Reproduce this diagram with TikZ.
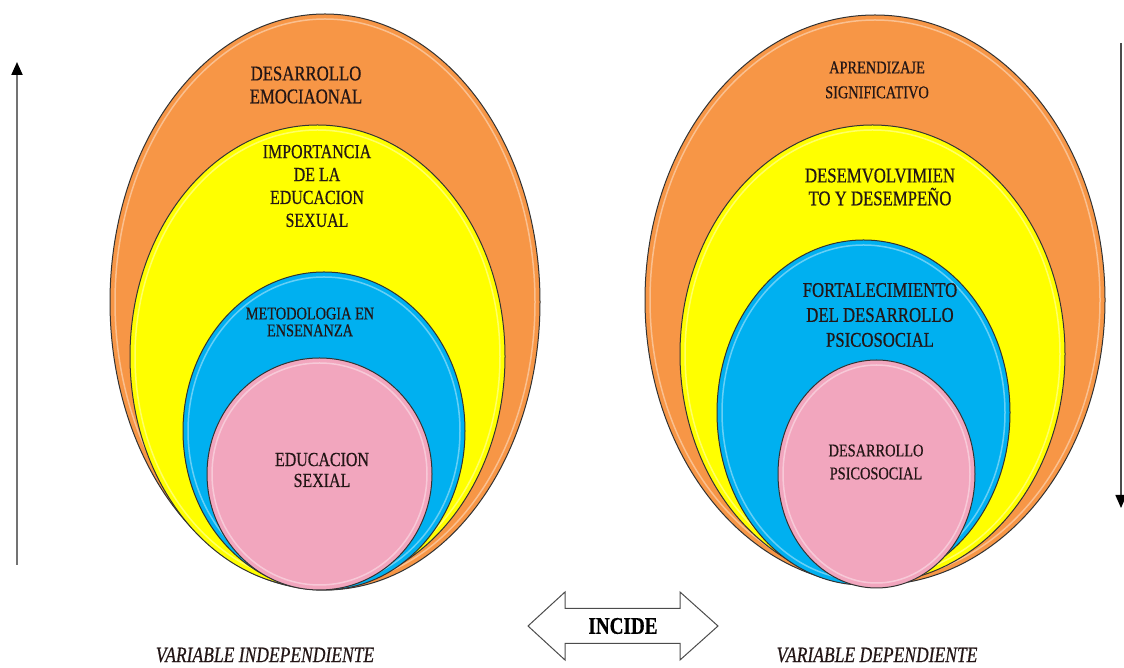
\documentclass[tikz,border=0pt]{standalone}
\usepackage{fontspec}
\setmainfont{Liberation Serif}[FakeStretch=0.8, FakeBold=0.6]
\usetikzlibrary{shapes.geometric,arrows.meta}
\definecolor{orangeA}{RGB}{247,150,70}
\definecolor{yellowA}{RGB}{255,255,0}
\definecolor{blueA}{RGB}{0,176,240}
\definecolor{pinkA}{RGB}{242,166,190}
\definecolor{ink}{RGB}{35,22,22}
\tikzset{
	ring/.style={ellipse, draw=black!80, line width=1bp, inner sep=0pt},
	lbl/.style={align=center, text=ink, inner sep=0pt},
}
\begin{document}
\begin{tikzpicture}[x=1bp,y=1bp]
	\useasboundingbox (0,0) rectangle (1124,668);
	\foreach \nm/\cx/\cy/\rx/\ry/\col in {lo/325/366/215/288/orangeA, ly/317.5/311.5/187.5/231.5/yellowA, lb/324/237/141/159/blueA, lp/319.5/194/112.5/116/pinkA, ro/875/368/230/285/orangeA, ry/872.5/314/192.5/229/yellowA, rb/863.5/255.5/146.5/172.5/blueA, rp/876.5/194/98.5/114/pinkA}{
		\path (\cx,\cy) node [ring, fill=\col, minimum width={2*\rx*1bp}, minimum height={2*\ry*1bp}] (\nm) {};
		\draw [white, opacity=.4, line width=1.5bp] (\cx,\cy) ellipse [x radius=\rx-5, y radius=\ry-5];
	}
	\path (306,583) node [lbl, font=\fontsize{21}{23}\selectfont] (lo-t) {DESARROLLO\\EMOCIAONAL};
	\path (317,482) node [lbl, font=\fontsize{20}{23}\selectfont] (ly-t) {IMPORTANCIA\\DE LA\\EDUCACION\\SEXUAL};
	\path (310,346) node [lbl, font=\fontsize{18}{17}\selectfont] (lb-t) {METODOLOGIA EN\\ENSENANZA};
	\path (322,198) node [lbl, font=\fontsize{20}{21}\selectfont] (lp-t) {EDUCACION\\SEXIAL};
	\path (877,588) node [lbl, font=\fontsize{18}{25}\selectfont] (ro-t) {APRENDIZAJE\\SIGNIFICATIVO};
	\path (880,481) node [lbl, font=\fontsize{21}{23}\selectfont] (ry-t) {DESEMVOLVIMIEN\\TO Y DESEMPEÑO};
	\path (880,353) node [lbl, font=\fontsize{21}{25}\selectfont] (rb-t) {FORTALECIMIENTO\\DEL DESARROLLO\\PSICOSOCIAL};
	\path (876,206) node [lbl, font=\fontsize{18}{23}\selectfont] (rp-t) {DESARROLLO\\PSICOSOCIAL};
	\coordinate (up-s) at (17,103);
	\coordinate (up-e) at (17,606);
	\draw [black!55, line width=2bp, -{Triangle[width=11bp,length=13bp,color=black]}] (up-s) -- (up-e);
	\coordinate (dn-s) at (1121,625);
	\coordinate (dn-e) at (1121,160);
	\draw [black!70, line width=1.5bp, -{Triangle[width=11bp,length=13bp,color=black]}] (dn-s) -- (dn-e);
	\draw [black!70, fill=white, line width=1bp] (528,42) -- (565,76) -- (565,59.5) -- (680,59.5) -- (680,76) -- (718,42) -- (680,8) -- (680,24.5) -- (565,24.5) -- (565,8) -- cycle;
	\path (623,42) node [lbl, text=black, font=\bfseries\fontsize{24}{26}\selectfont] (inc) {INCIDE};
	\path (265,13) node [lbl, font=\itshape\fontsize{22}{24}\selectfont] (vi) {VARIABLE INDEPENDIENTE};
	\path (877,13) node [lbl, font=\itshape\fontsize{22}{24}\selectfont] (vd) {VARIABLE DEPENDIENTE};
\end{tikzpicture}
\end{document}
